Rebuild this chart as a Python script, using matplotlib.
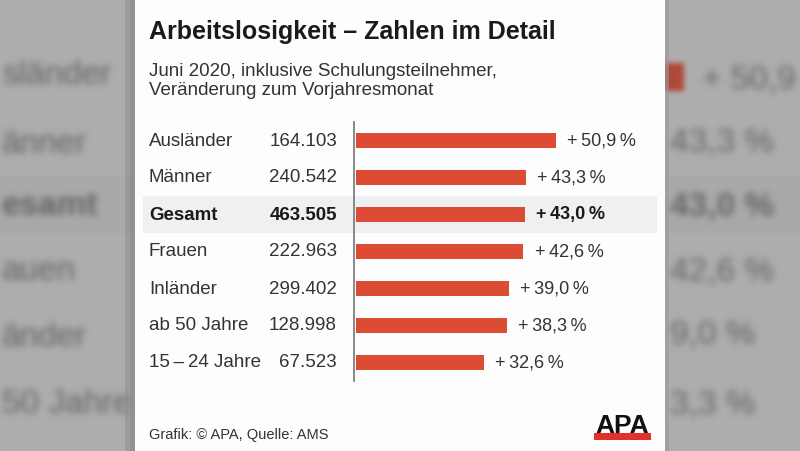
import matplotlib
matplotlib.use("Agg")
import numpy as np
import matplotlib.pyplot as plt
from matplotlib.patches import Rectangle
import matplotlib.transforms as mtransforms

# ---- data ----
categories = ["Ausländer", "Männer", "Gesamt", "Frauen", "Inländer", "ab 50 Jahre", "15\u2009\u2013\u200924 Jahre"]
counts = ["164.103", "240.542", "463.505", "222.963", "299.402", "128.998", "67.523"]
changes = [50.9, 43.3, 43.0, 42.6, 39.0, 38.3, 32.6]
highlight = "Gesamt"

title = "Arbeitslosigkeit \u2013 Zahlen im Detail"
subtitle = "Juni 2020, inklusive Schulungsteilnehmer,\nVeränderung zum Vorjahresmonat"
source = "Grafik: \u00a9 APA, Quelle: AMS"

# blurred, enlarged copy of the chart behind the card
ghost_left = [("sländer", 76, "normal"), ("änner", 145, "normal"), ("esamt", 207, "bold"),
              ("auen", 272, "normal"), ("änder", 338, "normal"), ("50 Jahre", 405, "normal")]
ghost_right = [("+ 50,9", 80, "normal"), ("43,3 %", 143, "normal"), ("43,0 %", 208, "bold"),
               ("42,6 %", 272, "normal"), ("9,0 %", 335, "normal"), ("3,3 %", 405, "normal")]

W, H = 800, 452
plt.rcParams['font.family'] = ['Liberation Sans', 'DejaVu Sans']
fig = plt.figure(figsize=(W / 100, H / 100), dpi=100)
fig.patch.set_facecolor("#adadad")


def _smooth(a, sigma, pad):
    x = np.arange(-pad, pad + 1)
    k = np.exp(-x ** 2 / (2 * sigma ** 2))
    k /= k.sum()
    a = np.apply_along_axis(lambda v: np.convolve(v, k, mode="same"), 0, a)
    a = np.apply_along_axis(lambda v: np.convolve(v, k, mode="same"), 1, a)
    return a


class GaussBlur:
    def __init__(self, sigma, color, alpha=1.0):
        self.sigma = sigma
        self.color = color
        self.alpha = alpha

    def __call__(self, im, dpi):
        pad = int(self.sigma * 3) + 1
        src = np.pad(im, [(pad, pad), (pad, pad), (0, 0)])
        out = np.empty_like(src)
        out[:, :, :3] = self.color
        out[:, :, 3] = np.clip(_smooth(src[:, :, 3], self.sigma, pad) * self.alpha, 0, 1)
        return out, -pad, -pad


# pixel-coordinate background axes
bg = fig.add_axes([0, 0, 1, 1])
bg.set_xlim(0, W)
bg.set_ylim(H, 0)
bg.axis("off")

bg.add_patch(Rectangle((-5, 177), W + 10, 58, color="#a4a6a8", alpha=0.5, lw=0, zorder=0))

gray = (0.38, 0.38, 0.38)


def ghost(x, y, txt, w):
    t = bg.text(x, y, txt, fontweight=w, color="#666666",
                fontsize=24, va="center", ha="left", zorder=0.5)
    t.set_agg_filter(GaussBlur(3.4, gray, 0.95))


for txt, y, w in ghost_left:
    ghost(2, y, txt, w)
for txt, y, w in ghost_right:
    ghost(670 if not txt.startswith("+") else 702, y, txt, w)
sq = Rectangle((662, 64), 22, 28, color="#b04a38", lw=0)
sq.set_agg_filter(GaussBlur(2.5, (0.69, 0.27, 0.20), 0.95))
bg.add_patch(sq)

# card shadow + card
bg.add_patch(Rectangle((125, -2), 12, H + 4, color="#8e8e8e", lw=0, alpha=0.55))
bg.add_patch(Rectangle((130, -2), 7, H + 4, color="#8a8a8a", lw=0, alpha=0.5))
bg.add_patch(Rectangle((663, -2), 6, H + 4, color="#9a9a9a", lw=0, alpha=0.6))
bg.add_patch(Rectangle((135, -2), 530, H + 4, color="#fdfdfd", lw=0, zorder=1))

# titles
bg.text(149, 32, title, fontsize=18, fontweight="bold", color="#1a1a1a", va="center", zorder=3)
bg.text(149, 81, subtitle, fontsize=13.5, color="#333333", va="center", linespacing=1.15, zorder=3)

# footer
bg.text(149, 435, source, fontsize=10.5, color="#333333", va="center", zorder=3)
bg.text(622, 426, "APA", fontsize=19, fontweight="bold", color="#111111", ha="center", va="center", zorder=3)
bg.add_patch(Rectangle((594, 434), 57, 7, color="#e0312a", lw=0, zorder=3))

# bar axes
row_h = 37
top = 122.5
n = len(categories)
left_px, right_px = 356, 650
px_per_pct = 3.93
ax = fig.add_axes([left_px / W, 1 - (top + n * row_h) / H, (right_px - left_px) / W, n * row_h / H])
ax.set_xlim(0, (right_px - left_px) / px_per_pct)
ax.set_ylim(n - 0.5, -0.5)
ax.patch.set_alpha(0)
for s in ["top", "right", "bottom"]:
    ax.spines[s].set_visible(False)
ax.spines["left"].set_color("#808080")
ax.spines["left"].set_linewidth(1.3)
ax.spines["left"].set_position(("outward", 1.5))
ax.set_xticks([])
ax.set_yticks([])
ax.set_zorder(4)

ypos = list(range(n))
ax.barh(ypos, changes, height=15 / row_h, color="#dc4c34", zorder=3)

trans = mtransforms.blended_transform_factory(bg.transData, ax.transData)
for i, (cat, cnt, ch) in enumerate(zip(categories, counts, changes)):
    bold = cat == highlight
    fw = "bold" if bold else "normal"
    col = "#1a1a1a" if bold else "#333333"
    if bold:
        bg.add_patch(Rectangle((143, i - 0.5), 514, 1.0, transform=trans,
                               color="#eef0f2", lw=0, zorder=2))
    bg.text(149, i, cat, transform=trans, fontsize=13.5, fontweight=fw, color=col,
            va="center", zorder=3)
    bg.text(337, i, cnt, transform=trans, fontsize=13.5, fontweight=fw, color=col,
            va="center", ha="right", zorder=3)
    lab = "+\u2009" + f"{ch:.1f}".replace(".", ",") + "\u2009%"
    ax.annotate(lab, (ch, i), xytext=(8, 0), textcoords="offset points",
                fontsize=13, fontweight=fw, color=col, va="center", ha="left",
                annotation_clip=False)

fig.savefig("out.png", dpi=100)
